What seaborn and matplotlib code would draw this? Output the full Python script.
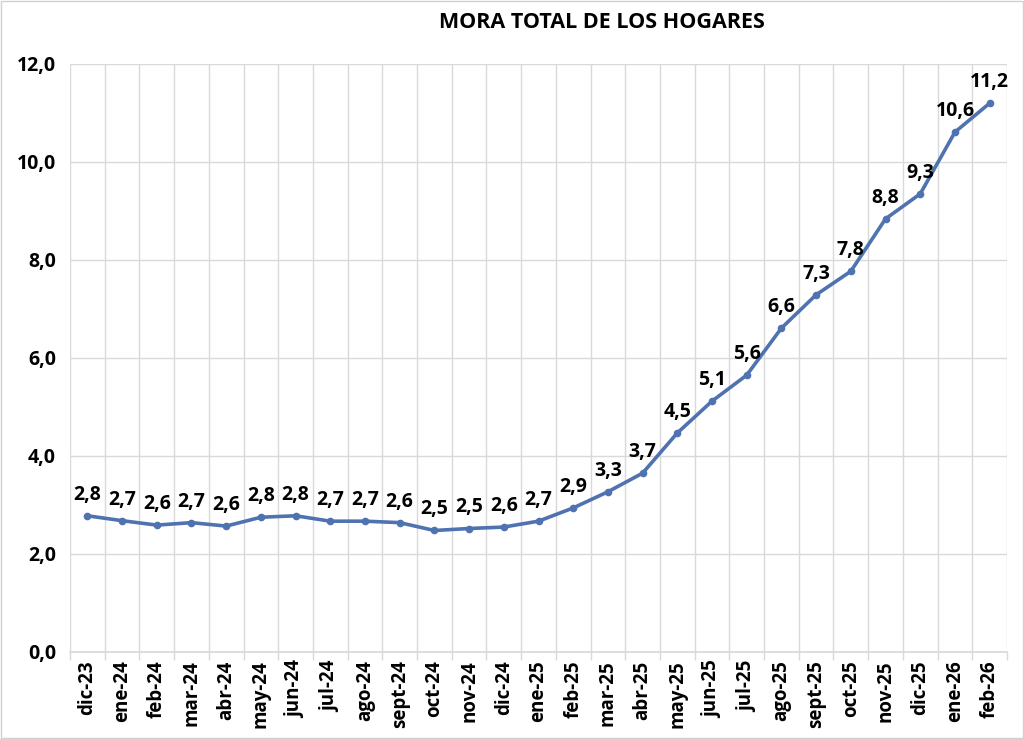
import matplotlib
matplotlib.use("Agg")
import matplotlib.pyplot as plt
import seaborn as sns
import pandas as pd
import numpy as np
from matplotlib.ticker import FixedLocator, FuncFormatter

months = ["dic-23", "ene-24", "feb-24", "mar-24", "abr-24", "may-24", "jun-24", "jul-24",
          "ago-24", "sept-24", "oct-24", "nov-24", "dic-24", "ene-25", "feb-25", "mar-25",
          "abr-25", "may-25", "jun-25", "jul-25", "ago-25", "sept-25", "oct-25", "nov-25",
          "dic-25", "ene-26", "feb-26"]
values = [2.78, 2.68, 2.59, 2.64, 2.57, 2.75, 2.78, 2.67, 2.67, 2.64, 2.48, 2.52, 2.55,
          2.67, 2.94, 3.27, 3.65, 4.47, 5.12, 5.65, 6.61, 7.29, 7.77, 8.84, 9.35, 10.61, 11.2]
labels = ["2,8", "2,7", "2,6", "2,7", "2,6", "2,8", "2,8", "2,7", "2,7", "2,6", "2,5", "2,5",
          "2,6", "2,7", "2,9", "3,3", "3,7", "4,5", "5,1", "5,6", "6,6", "7,3", "7,8", "8,8",
          "9,3", "10,6", "11,2"]
yticks = [0, 2, 4, 6, 8, 10, 12]

sns.set_theme(style="white")
plt.rcParams['font.family'] = ['Open Sans', 'DejaVu Sans']

df = pd.DataFrame({"pos": np.arange(len(months)), "mora": values})

fig = plt.figure(figsize=(10.24, 7.39), dpi=100)
fig.patch.set_facecolor("white")
ax = fig.add_axes([70/1024, 1-652/739, (1007-70)/1024, (652-64)/739])

color = "#4f72b0"
sns.lineplot(data=df, x="pos", y="mora", ax=ax, color=color, linewidth=2.6,
             marker="o", markersize=5.5, markeredgewidth=0, sort=False)

for x, y, t in zip(df["pos"], df["mora"], labels):
    ax.annotate(t, (x, y), xytext=(0, 8), textcoords="offset points",
                ha="center", va="bottom", fontsize=14, fontweight="bold", color="black")

ax.set_xlim(-0.5, len(months) - 0.5)
ax.set_ylim(0, 12)
ax.set_xticks(np.arange(len(months)))
ax.set_xticklabels(months, rotation=90, fontsize=13.5, fontweight="bold", color="black")
ax.xaxis.set_minor_locator(FixedLocator(np.arange(-0.5, len(months), 1.0)))
ax.set_yticks(yticks)
ax.yaxis.set_major_formatter(FuncFormatter(lambda v, p: f"{v:.1f}".replace(".", ",")))
for lab in ax.get_yticklabels():
    lab.set_fontweight("bold")
    lab.set_fontsize(14)
    lab.set_color("black")

ax.grid(False)
ax.grid(True, which="minor", axis="x", color="#d9d9d9", linewidth=1)
ax.grid(True, which="major", axis="y", color="#d9d9d9", linewidth=1)
ax.tick_params(axis="x", which="major", length=0, pad=6)
ax.tick_params(axis="x", which="minor", length=6, color="#d9d9d9", width=1, bottom=True)
ax.tick_params(axis="y", length=0, pad=10)
for s in ["top", "right", "left"]:
    ax.spines[s].set_visible(False)
ax.spines["bottom"].set_color("#d9d9d9")
ax.set_xlabel("")
ax.set_ylabel("")

fig.text(602/1024, 1-22/739, "MORA TOTAL DE LOS HOGARES", ha="center", va="center",
         fontsize=15.5, fontweight="bold", color="black")

border = plt.Rectangle((0.001, 0.001), 0.998, 0.998, transform=fig.transFigure,
                       fill=False, edgecolor="#d0d0d0", linewidth=1)
fig.patches.append(border)

fig.savefig("out.png", dpi=100)
